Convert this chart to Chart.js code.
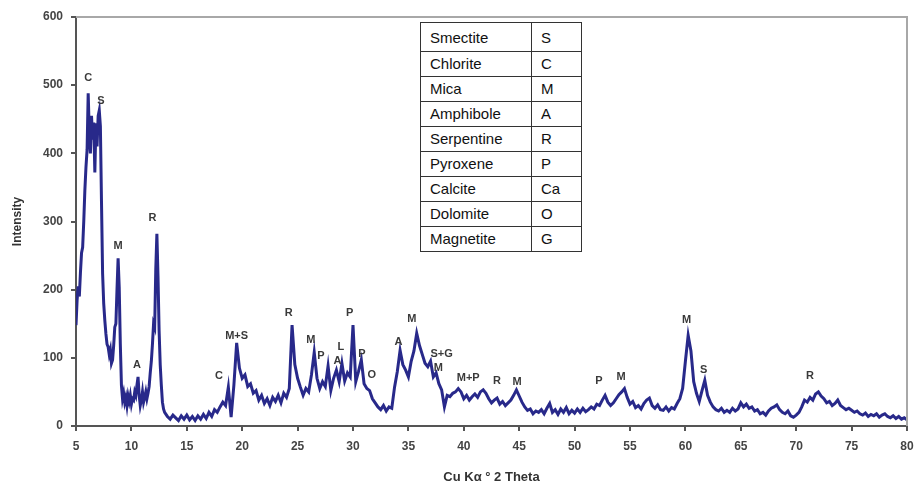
<!DOCTYPE html>
<html>
<head>
<meta charset="utf-8">
<script src="https://cdn.jsdelivr.net/npm/chart.js@4"></script>
<style>
  html, body { margin: 0; padding: 0; background: #fff; }
  #wrap { position: relative; width: 914px; height: 493px; }
  #legendTable {
    position: absolute; left: 420px; top: 22px; width: 162px;
    border-collapse: collapse; background: #fff;
    font-family: "Liberation Sans", Arial, sans-serif; font-size: 15px; color: #111;
  }
  #legendTable td { border: 1px solid #333; padding: 0 0 0 9px; height: 24px; line-height: 24px; }
  #legendTable tr:first-child td { height: 26px; line-height: 27px; padding-top: 1px; }
  #legendTable td:first-child { width: 101px; }
</style>
</head>
<body>
<div id="wrap">
  <canvas id="xrdChart" width="914" height="493"></canvas>
  <table id="legendTable"></table>
</div>
<script>
// minerals shown in the key
var mineralNames = ['Smectite', 'Chlorite', 'Mica', 'Amphibole', 'Serpentine', 'Pyroxene', 'Calcite', 'Dolomite', 'Magnetite'];
var mineralCodes = ['S', 'C', 'M', 'A', 'R', 'P', 'Ca', 'O', 'G'];

// scan 5-13 deg (0.1 step)
var twoThetaLow = [5.0,5.1,5.2,5.3,5.4,5.5,5.6,5.7,5.8,5.9,
  6.0,6.1,6.2,6.3,6.4,6.5,6.6,6.7,6.8,6.9,
  7.0,7.1,7.2,7.3,7.4,7.5,7.6,7.7,7.8,7.9,
  8.0,8.1,8.2,8.3,8.4,8.5,8.6,8.7,8.8,8.9,
  9.0,9.1,9.2,9.3,9.4,9.5,9.6,9.7,9.8,9.9,
  10.0,10.1,10.2,10.3,10.4,10.5,10.6,10.7,10.8,10.9,
  11.0,11.1,11.2,11.3,11.4,11.5,11.6,11.7,11.8,11.9,
  12.0,12.1,12.2,12.3,12.4,12.5,12.6,12.7,12.8,12.9,13.0];
var intensityLow = [148,185,205,190,225,254,262,300,346,380,
  405,488,430,400,455,420,445,372,444,410,
  455,463,440,330,224,180,155,135,120,116,
  105,112,92,97,118,145,150,200,246,204,
  120,60,40,48,35,42,30,44,36,45,
  32,40,38,50,45,60,72,45,30,38,
  50,35,42,50,40,48,58,78,95,120,
  150,145,230,282,220,140,90,60,35,25,20];

// scan 13.25-80 deg (0.25 step)
var twoThetaHigh = [13.25,13.5,13.75,14,14.25,14.5,14.75,15,15.25,15.5,15.75,16,
  16.25,16.5,16.75,17,17.25,17.5,17.75,18,18.25,18.5,18.75,19,
  19.25,19.5,19.75,20,20.25,20.5,20.75,21,21.25,21.5,21.75,22,
  22.25,22.5,22.75,23,23.25,23.5,23.75,24,24.25,24.5,24.75,25,
  25.25,25.5,25.75,26,26.25,26.5,26.75,27,27.25,27.5,27.75,28,
  28.25,28.5,28.75,29,29.25,29.5,29.75,30,30.25,30.5,30.75,31,
  31.25,31.5,31.75,32,32.25,32.5,32.75,33,33.25,33.5,33.75,34,
  34.25,34.5,34.75,35,35.25,35.5,35.75,36,36.25,36.5,36.75,37,
  37.25,37.5,37.75,38,38.25,38.5,38.75,39,39.25,39.5,39.75,40,
  40.25,40.5,40.75,41,41.25,41.5,41.75,42,42.25,42.5,42.75,43,
  43.25,43.5,43.75,44,44.25,44.5,44.75,45,45.25,45.5,45.75,46,
  46.25,46.5,46.75,47,47.25,47.5,47.75,48,48.25,48.5,48.75,49,
  49.25,49.5,49.75,50,50.25,50.5,50.75,51,51.25,51.5,51.75,52,
  52.25,52.5,52.75,53,53.25,53.5,53.75,54,54.25,54.5,54.75,55,
  55.25,55.5,55.75,56,56.25,56.5,56.75,57,57.25,57.5,57.75,58,
  58.25,58.5,58.75,59,59.25,59.5,59.75,60,60.25,60.5,60.75,61,
  61.25,61.5,61.75,62,62.25,62.5,62.75,63,63.25,63.5,63.75,64,
  64.25,64.5,64.75,65,65.25,65.5,65.75,66,66.25,66.5,66.75,67,
  67.25,67.5,67.75,68,68.25,68.5,68.75,69,69.25,69.5,69.75,70,
  70.25,70.5,70.75,71,71.25,71.5,71.75,72,72.25,72.5,72.75,73,
  73.25,73.5,73.75,74,74.25,74.5,74.75,75,75.25,75.5,75.75,76,
  76.25,76.5,76.75,77,77.25,77.5,77.75,78,78.25,78.5,78.75,79,
  79.25,79.5,79.75,80];
var intensityHigh = [14,10,16,12,8,15,10,16,9,14,8,15,
  10,17,11,20,14,24,20,28,35,30,57,13,
  60,122,85,70,75,58,62,48,52,38,45,33,
  40,30,42,36,45,34,48,42,55,148,90,70,
  57,45,55,50,75,108,70,55,65,58,88,52,
  70,82,65,92,66,78,72,148,65,80,97,62,
  55,52,40,34,28,24,30,22,28,26,57,80,
  111,90,82,72,95,110,136,118,105,92,87,95,
  72,78,62,53,28,45,43,48,50,55,50,40,
  45,38,43,47,42,50,53,48,40,34,38,41,
  32,36,30,34,38,45,53,44,35,28,23,25,
  18,22,20,24,18,26,33,20,24,17,25,20,
  27,18,23,19,25,20,26,21,24,28,25,32,
  30,38,45,35,30,34,40,46,50,55,42,32,
  36,27,30,25,33,38,41,30,26,31,24,23,
  28,22,27,25,33,40,55,95,133,110,65,48,
  36,52,67,45,35,28,24,22,26,20,23,20,
  26,22,25,34,28,32,26,28,22,24,18,20,
  16,22,26,28,31,24,20,18,22,15,13,16,
  20,28,38,35,42,38,47,50,44,40,34,36,
  30,33,38,30,27,24,26,23,20,22,18,16,
  19,14,17,15,18,13,16,18,14,12,15,11,
  14,10,12,9];

// peak labels
var peakText = ['C','S','M','A','R','C','M+S','R','M','P','A','L','P','P','O','A','M','S+G','M','M+P','R','M','P','M','M','S','R'];
var peakAt   = [6.1,7.25,8.8,10.5,11.9,17.9,19.5,24.2,26.2,27.1,28.6,28.9,29.7,30.8,31.7,34.1,35.3,38.0,37.7,40.4,43.0,44.8,52.2,54.2,60.1,61.65,71.25];
var peakY    = [510,477,264,89,305,73,132,166,126,103,95,116,166,106,75,123,157,106,85,70,66,65,66,72,155,82,73];

var xTicks = [5,10,15,20,25,30,35,40,45,50,55,60,65,70,75,80];

// build the key
var tbl = document.getElementById('legendTable');
mineralNames.forEach(function(n, i) {
  var tr = document.createElement('tr');
  tr.innerHTML = '<td>' + n + '</td><td>' + mineralCodes[i] + '</td>';
  tbl.appendChild(tr);
});

var points = [];
twoThetaLow.forEach(function(x, i) { points.push({x: x, y: intensityLow[i]}); });
twoThetaHigh.forEach(function(x, i) { points.push({x: x, y: intensityHigh[i]}); });

var peakLabels = {
  id: 'peakLabels',
  afterDatasetsDraw: function(chart) {
    var c = chart.ctx, xs = chart.scales.x, ys = chart.scales.y, a = chart.chartArea;
    c.save();
    // frame on top and right
    c.strokeStyle = '#a8a8a8';
    c.lineWidth = 2;
    c.beginPath();
    c.moveTo(a.left, a.top);
    c.lineTo(a.right, a.top);
    c.lineTo(a.right, a.bottom);
    c.stroke();
    c.font = 'bold 11px "Liberation Sans", Arial, sans-serif';
    c.fillStyle = '#3a3a3a';
    c.textAlign = 'center';
    c.textBaseline = 'middle';
    peakText.forEach(function(t, i) {
      c.fillText(t, xs.getPixelForValue(peakAt[i]), ys.getPixelForValue(peakY[i]));
    });
    c.restore();
  }
};

var ctx = document.getElementById('xrdChart').getContext('2d');
var xrdChart = new Chart(ctx, {
  type: 'line',
  data: {
    datasets: [{
      data: points,
      borderColor: '#28298a',
      borderWidth: 3,
      pointRadius: 0,
      tension: 0
    }]
  },
  options: {
    responsive: false,
    animation: false,
    layout: { padding: { top: 17, right: 2, left: 0, bottom: 0 } },
    plugins: { legend: { display: false }, tooltip: { enabled: false } },
    scales: {
      x: {
        type: 'linear', min: 5, max: 80,
        afterBuildTicks: function(s) { s.ticks = xTicks.map(function(v) { return {value: v}; }); },
        afterFit: function(s) { s.height = 67; s.paddingRight = 7; },
        grid: { drawOnChartArea: false, drawTicks: true, tickLength: 5, color: '#555', lineWidth: 2 },
        border: { display: true, color: '#555', width: 2 },
        ticks: { padding: 8, maxRotation: 0, color: '#444', font: { family: 'Liberation Sans', size: 12, weight: 'bold' } },
        title: { display: true, text: 'Cu Kα ° 2 Theta', color: '#333', padding: { top: 0, bottom: 8 },
          font: { family: 'Liberation Sans', size: 13, weight: 'bold' } }
      },
      y: {
        min: 0, max: 600,
        ticks: { stepSize: 100, padding: 8, color: '#444', font: { family: 'Liberation Sans', size: 12, weight: 'bold' } },
        afterFit: function(s) { s.width = 76; },
        grid: { drawOnChartArea: false, drawTicks: true, tickLength: 5, color: '#555', lineWidth: 2 },
        border: { display: true, color: '#555', width: 2 },
        title: { display: true, text: 'Intensity', color: '#333', padding: { top: 10, bottom: 0 },
          font: { family: 'Liberation Sans', size: 12, weight: 'bold' } }
      }
    }
  },
  plugins: [peakLabels]
});
</script>
</body>
</html>
